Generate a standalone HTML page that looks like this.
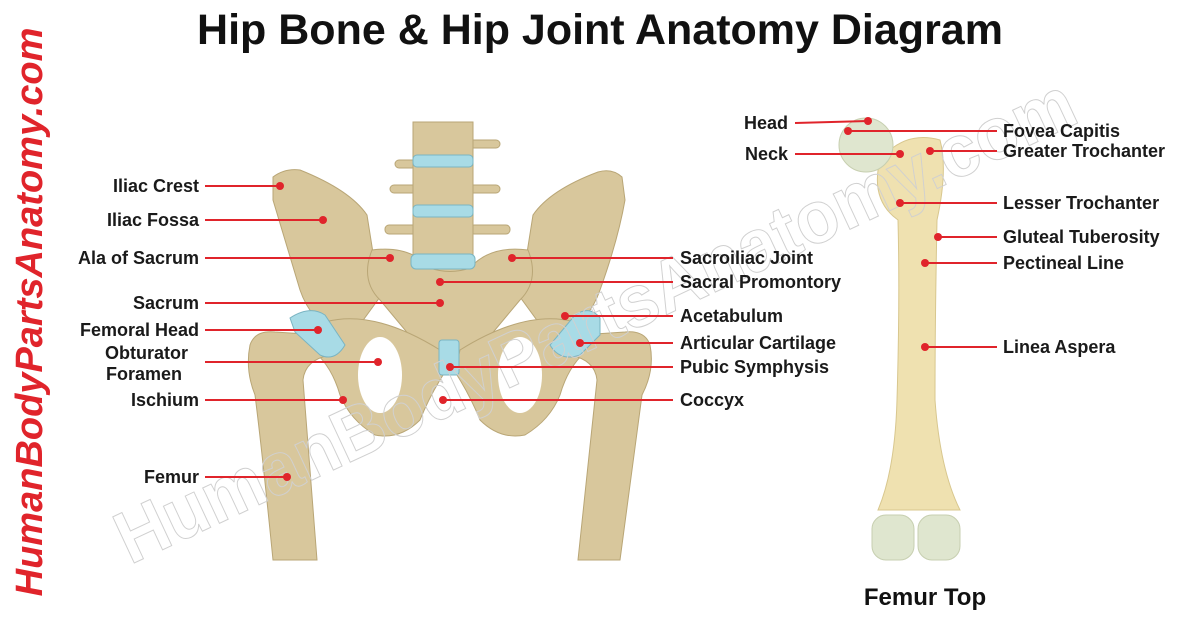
<!DOCTYPE html>
<html><head><meta charset="utf-8"><style>
html,body{margin:0;padding:0;background:#fff;}
body{width:1200px;height:630px;overflow:hidden;}
text{font-family:"Liberation Sans",sans-serif;font-weight:bold;}
</style></head><body>
<svg width="1200" height="630" viewBox="0 0 1200 630" xmlns="http://www.w3.org/2000/svg">
<rect width="1200" height="630" fill="#fff"/>
<text x="600" y="44" font-size="43" text-anchor="middle" fill="#111">Hip Bone &amp; Hip Joint Anatomy Diagram</text>
<text transform="translate(42,312) rotate(-90)" font-size="38" text-anchor="middle" fill="#e0242b" font-style="italic">HumanBodyPartsAnatomy.com</text>

<!-- pelvis -->
<g fill="#d8c79c" stroke="#b9a676" stroke-width="1">
  <rect x="395" y="160" width="40" height="8" rx="4"/>
  <rect x="460" y="140" width="40" height="8" rx="4"/>
  <rect x="390" y="185" width="40" height="8" rx="4"/>
  <rect x="465" y="185" width="35" height="8" rx="4"/>
  <rect x="385" y="225" width="45" height="9" rx="4"/>
  <rect x="470" y="225" width="40" height="9" rx="4"/>
  <rect x="413" y="122" width="60" height="150"/>
  <path d="M273,177 Q285,168 300,170 Q350,190 367,215 L380,297 L345,345 Q310,320 300,290 Q285,240 273,200 Z"/>
  <path d="M622,177 Q612,168 598,172 Q550,190 533,215 L520,297 L555,345 Q590,320 600,290 Q618,240 625,200 Z"/>
  <path d="M372,250 Q410,245 430,268 Q450,275 470,268 Q490,245 528,250 Q540,280 520,300 L470,360 L430,360 L380,300 Q360,280 372,250 Z"/>
  <path d="M305,330 Q360,300 440,350 L445,372 Q430,395 420,420 Q400,440 375,435 Q350,420 340,395 Q330,360 305,345 Z"/>
  <path d="M595,330 Q540,300 460,350 L455,372 Q470,395 480,420 Q500,440 525,435 Q550,420 560,395 Q570,360 595,345 Z"/>
  <path d="M250,345 Q255,330 275,332 L320,335 L330,355 Q305,360 303,380 L317,560 L273,560 Q262,450 255,395 Q245,370 250,345 Z"/>
  <path d="M650,345 Q645,330 625,332 L580,335 L570,355 Q595,360 597,380 L578,560 L620,560 Q635,450 642,395 Q655,370 650,345 Z"/>
</g>
<g fill="#fff" stroke="none">
  <ellipse cx="380" cy="375" rx="22" ry="38"/>
  <ellipse cx="520" cy="375" rx="22" ry="38"/>
</g>
<g fill="#a8dbe6" stroke="#7ab4c2" stroke-width="1">
  <rect x="413" y="155" width="60" height="12" rx="4"/>
  <rect x="413" y="205" width="60" height="12" rx="4"/>
  <rect x="411" y="254" width="64" height="15" rx="5"/>
  <path d="M290,318 Q310,305 325,315 L345,345 Q335,362 320,355 L295,332 Z"/>
  <path d="M600,318 Q590,305 575,315 L550,345 Q560,362 580,355 L600,335 Z"/>
  <rect x="439" y="340" width="20" height="35" rx="3"/>
</g>

<!-- femur right -->
<path d="M880,160 Q905,130 940,140 Q948,170 937,220 Q935,320 935,400 Q940,470 960,510 L878,510 Q895,470 897,400 Q900,300 898,220 Q870,200 880,160 Z" fill="#efe1b0" stroke="#d8c78e"/>
<circle cx="866" cy="145" r="27" fill="#dfe6cf" stroke="#c7cfb0"/>
<rect x="872" y="515" width="42" height="45" rx="14" fill="#dfe6cf" stroke="#c7cfb0"/>
<rect x="918" y="515" width="42" height="45" rx="14" fill="#dfe6cf" stroke="#c7cfb0"/>
<text x="925" y="605" font-size="24" text-anchor="middle" fill="#111">Femur Top</text>

<text transform="translate(130,565) rotate(-25)" font-size="74" fill="none" stroke="#d0d0d0" stroke-width="1" font-weight="normal" textLength="1050" lengthAdjust="spacingAndGlyphs">HumanBodyPartsAnatomy.com</text>

<g stroke="#e0242b" stroke-width="2">
<line x1="205" y1="186" x2="280" y2="186"/><line x1="205" y1="220" x2="323" y2="220"/>
<line x1="205" y1="258" x2="390" y2="258"/><line x1="205" y1="303" x2="440" y2="303"/>
<line x1="205" y1="330" x2="318" y2="330"/><line x1="205" y1="362" x2="378" y2="362"/>
<line x1="205" y1="400" x2="343" y2="400"/><line x1="205" y1="477" x2="287" y2="477"/>
<line x1="512" y1="258" x2="673" y2="258"/><line x1="440" y1="282" x2="673" y2="282"/>
<line x1="565" y1="316" x2="673" y2="316"/><line x1="580" y1="343" x2="673" y2="343"/>
<line x1="450" y1="367" x2="673" y2="367"/><line x1="443" y1="400" x2="673" y2="400"/>
<line x1="795" y1="123" x2="868" y2="121"/><line x1="795" y1="154" x2="900" y2="154"/>
<line x1="848" y1="131" x2="997" y2="131"/><line x1="930" y1="151" x2="997" y2="151"/>
<line x1="900" y1="203" x2="997" y2="203"/><line x1="938" y1="237" x2="997" y2="237"/>
<line x1="925" y1="263" x2="997" y2="263"/><line x1="925" y1="347" x2="997" y2="347"/>
</g>
<g fill="#e0242b">
<circle cx="280" cy="186" r="4"/><circle cx="323" cy="220" r="4"/><circle cx="390" cy="258" r="4"/>
<circle cx="440" cy="303" r="4"/><circle cx="318" cy="330" r="4"/><circle cx="378" cy="362" r="4"/>
<circle cx="343" cy="400" r="4"/><circle cx="287" cy="477" r="4"/><circle cx="512" cy="258" r="4"/>
<circle cx="440" cy="282" r="4"/><circle cx="565" cy="316" r="4"/><circle cx="580" cy="343" r="4"/>
<circle cx="450" cy="367" r="4"/><circle cx="443" cy="400" r="4"/><circle cx="868" cy="121" r="4"/>
<circle cx="900" cy="154" r="4"/><circle cx="848" cy="131" r="4"/><circle cx="930" cy="151" r="4"/>
<circle cx="900" cy="203" r="4"/><circle cx="938" cy="237" r="4"/><circle cx="925" cy="263" r="4"/>
<circle cx="925" cy="347" r="4"/>
</g>
<g font-size="18" fill="#1a1a1a" text-anchor="end">
<text x="199" y="192">Iliac Crest</text><text x="199" y="226">Iliac Fossa</text>
<text x="199" y="264">Ala of Sacrum</text><text x="199" y="309">Sacrum</text>
<text x="199" y="336">Femoral Head</text><text x="188" y="359">Obturator</text>
<text x="182" y="380">Foramen</text><text x="199" y="406">Ischium</text>
<text x="199" y="483">Femur</text>
<text x="788" y="129">Head</text><text x="788" y="160">Neck</text>
</g>
<g font-size="18" fill="#1a1a1a">
<text x="680" y="264">Sacroiliac Joint</text><text x="680" y="288">Sacral Promontory</text>
<text x="680" y="322">Acetabulum</text><text x="680" y="349">Articular Cartilage</text>
<text x="680" y="373">Pubic Symphysis</text><text x="680" y="406">Coccyx</text>
<text x="1003" y="137">Fovea Capitis</text><text x="1003" y="157">Greater Trochanter</text>
<text x="1003" y="209">Lesser Trochanter</text><text x="1003" y="243">Gluteal Tuberosity</text>
<text x="1003" y="269">Pectineal Line</text><text x="1003" y="353">Linea Aspera</text>
</g>
</svg>
</body></html>
